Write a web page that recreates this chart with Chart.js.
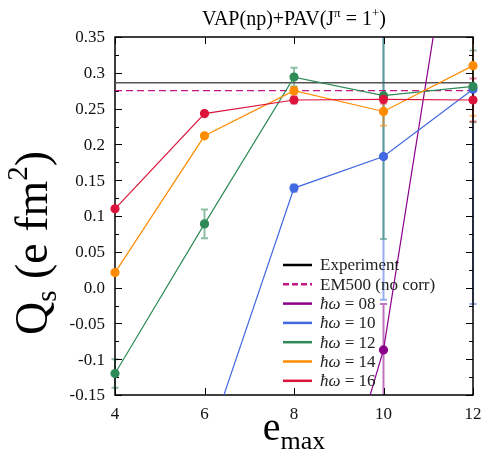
<!DOCTYPE html>
<html>
<head>
<meta charset="utf-8">
<script src="https://cdn.jsdelivr.net/npm/chart.js@4"></script>
<style>
  body { margin: 0; background: #fff; }
</style>
</head>
<body>
<canvas id="qsChart" width="484" height="455"></canvas>
<script>
// e_max values and tick labels
const emax = [4, 6, 8, 10, 12];
const xLabels = ['4', '6', '8', '10', '12'];
const yTicks = [-0.15, -0.1, -0.05, 0, 0.05, 0.1, 0.15, 0.2, 0.25, 0.3, 0.35];
const yLabels = ['-0.15', '-0.1', '-0.05', '0.0', '0.05', '0.1', '0.15', '0.2', '0.25', '0.3', '0.35'];

// reference lines
const experiment = [0.286, 0.286];
const em500 = [0.275, 0.275];

// Q_s per hbar omega, with error bars
const hw08 = [null, null, -0.51, -0.087, 0.70];
const err08 = [0, 0, 0, 0.064, 0];
const hw10 = [null, -0.23, 0.139, 0.183, 0.277];
const err10 = [0, 0, 0.005, 0.2, 0.3];
const hw12 = [-0.12, 0.089, 0.294, 0.268, 0.281];
const err12 = [0.02, 0.02, 0.013, 0.2, 0.05];
const hw14 = [0.021, 0.212, 0.275, 0.246, 0.310];
const err14 = [0, 0, 0.005, 0.02, 0.07];
const hw16 = [0.110, 0.243, 0.262, 0.263, 0.262];
const err16 = [0, 0, 0.005, 0.006, 0.03];

const serif = "'Liberation Serif', serif";

const series = [
    { label: '16', values: hw16, errors: err16, color: '#dc143c', bar: 'rgba(220,20,60,0.55)' },
    { label: '14', values: hw14, errors: err14, color: '#ff8c00', bar: 'rgba(255,140,0,0.55)' },
    { label: '12', values: hw12, errors: err12, color: '#2e8b57', bar: 'rgba(46,139,87,0.55)' },
    { label: '10', values: hw10, errors: err10, color: '#4169e1', bar: 'rgba(65,105,225,0.55)' },
    { label: '08', values: hw08, errors: err08, color: '#8b008b', bar: 'rgba(139,0,139,0.55)' }
];

const toPoints = (vals) => emax.map((x, i) => ({ x: x, y: vals[i] }));

const datasets = series.map(s => ({
    label: s.label,
    data: toPoints(s.values),
    borderColor: s.color,
    backgroundColor: s.color,
    borderWidth: 1.2,
    pointRadius: 4,
    pointHoverRadius: 4,
    clip: { left: 6, right: 6, top: 0, bottom: 0 }
}));

datasets.push({
    label: 'Experiment',
    data: [{ x: 4, y: experiment[0] }, { x: 12, y: experiment[1] }],
    borderColor: '#555',
    borderWidth: 1.5,
    pointRadius: 0
});
datasets.push({
    label: 'EM500',
    data: [{ x: 4, y: em500[0] }, { x: 12, y: em500[1] }],
    borderColor: '#c71585',
    borderWidth: 1.2,
    borderDash: [7, 4],
    pointRadius: 0
});

// draws text pieces with sub/superscripts, starting at x (left), baseline y
function drawPieces(ctx, pieces, x, y) {
    pieces.forEach(p => {
        ctx.font = p.font;
        ctx.fillText(p.text, x, y + (p.dy || 0));
        x += ctx.measureText(p.text).width;
    });
}
function piecesWidth(ctx, pieces) {
    let w = 0;
    pieces.forEach(p => { ctx.font = p.font; w += ctx.measureText(p.text).width; });
    return w;
}

const decor = {
    id: 'decor',
    beforeDatasetsDraw(chart) {
        const ctx = chart.ctx;
        const area = chart.chartArea;
        const xs = chart.scales.x;
        const ys = chart.scales.y;
        ctx.save();

        // error bars
        ctx.beginPath();
        ctx.rect(area.left - 6, area.top, area.right - area.left + 12, area.bottom - area.top);
        ctx.clip();
        series.slice().reverse().forEach(s => {
            ctx.strokeStyle = s.bar;
            ctx.lineWidth = 2;
            s.values.forEach((v, i) => {
                const e = s.errors[i];
                if (v === null || !e) return;
                const px = xs.getPixelForValue(emax[i]);
                const lo = ys.getPixelForValue(v - e);
                const hi = ys.getPixelForValue(v + e);
                ctx.beginPath();
                ctx.moveTo(px, lo);
                ctx.lineTo(px, hi);
                ctx.moveTo(px - 3.5, lo);
                ctx.lineTo(px + 3.5, lo);
                ctx.moveTo(px - 3.5, hi);
                ctx.lineTo(px + 3.5, hi);
                ctx.stroke();
            });
        });
        ctx.restore();

        // frame and inward ticks
        ctx.save();
        ctx.strokeStyle = '#000';
        ctx.lineWidth = 1.5;
        ctx.strokeRect(area.left, area.top, area.right - area.left, area.bottom - area.top);
        ctx.lineWidth = 1;
        ctx.beginPath();
        emax.forEach(v => {
            const px = Math.round(xs.getPixelForValue(v)) + 0.5;
            ctx.moveTo(px, area.bottom);
            ctx.lineTo(px, area.bottom - 7);
            ctx.moveTo(px, area.top);
            ctx.lineTo(px, area.top + 7);
        });
        for (let k = 0; k <= 20; k++) {
            const v = -0.15 + k * 0.025;
            const len = k % 2 === 0 ? 7 : 4;
            const py = Math.round(ys.getPixelForValue(v)) + 0.5;
            ctx.moveTo(area.left, py);
            ctx.lineTo(area.left + len, py);
            ctx.moveTo(area.right, py);
            ctx.lineTo(area.right - len, py);
        }
        ctx.stroke();

        // tick labels
        ctx.fillStyle = '#111';
        ctx.font = '17px ' + serif;
        ctx.textAlign = 'right';
        ctx.textBaseline = 'middle';
        yTicks.forEach((v, i) => {
            ctx.fillText(yLabels[i], area.left - 10, ys.getPixelForValue(v) + 1);
        });
        ctx.textAlign = 'center';
        ctx.textBaseline = 'alphabetic';
        emax.forEach((v, i) => {
            ctx.fillText(xLabels[i], xs.getPixelForValue(v), area.bottom + 24);
        });
        ctx.restore();
    },
    afterDraw(chart) {
        const ctx = chart.ctx;
        const area = chart.chartArea;
        const midX = (area.left + area.right) / 2;
        ctx.save();
        ctx.fillStyle = '#000';
        ctx.textBaseline = 'alphabetic';
        ctx.textAlign = 'left';

        // title
        const f = '20px ' + serif;
        const fs = '13px ' + serif;
        const title = [
            { text: 'VAP(np)+PAV(J', font: f },
            { text: 'π', font: fs, dy: -8 },
            { text: ' = 1', font: f },
            { text: '+', font: fs, dy: -8 },
            { text: ')', font: f }
        ];
        drawPieces(ctx, title, midX - piecesWidth(ctx, title) / 2, 25);

        // x axis title
        const xt = [
            { text: 'e', font: '40px ' + serif },
            { text: 'max', font: '26px ' + serif, dy: 9 }
        ];
        drawPieces(ctx, xt, midX - piecesWidth(ctx, xt) / 2, 440);

        // y axis title
        const yt = [
            { text: 'Q', font: '46px ' + serif },
            { text: 's', font: '29px ' + serif, dy: 9 },
            { text: ' (e fm', font: '46px ' + serif },
            { text: '2', font: '29px ' + serif, dy: -20 },
            { text: ')', font: '46px ' + serif }
        ];
        ctx.translate(47, 243);
        ctx.rotate(-Math.PI / 2);
        drawPieces(ctx, yt, -piecesWidth(ctx, yt) / 2, 0);
        ctx.restore();

        // legend
        ctx.save();
        const rows = [
            { color: '#000', dash: [], label: 'Experiment' },
            { color: '#c71585', dash: [6, 3], label: 'EM500 (no corr)' },
            { color: '#8b008b', dash: [], label: '08', hw: true },
            { color: '#4169e1', dash: [], label: '10', hw: true },
            { color: '#2e8b57', dash: [], label: '12', hw: true },
            { color: '#ff8c00', dash: [], label: '14', hw: true },
            { color: '#dc143c', dash: [], label: '16', hw: true }
        ];
        ctx.textBaseline = 'middle';
        rows.forEach((r, i) => {
            const y = 265 + i * 19.3;
            ctx.strokeStyle = r.color;
            ctx.lineWidth = 2.5;
            ctx.setLineDash(r.dash);
            ctx.beginPath();
            ctx.moveTo(283, y);
            ctx.lineTo(312, y);
            ctx.stroke();
            ctx.setLineDash([]);
            ctx.fillStyle = '#222';
            if (r.hw) {
                drawPieces(ctx, [
                    { text: 'ħω', font: 'italic 17px ' + serif },
                    { text: ' = ' + r.label, font: '17px ' + serif }
                ], 320, y + 1);
            } else {
                ctx.font = '17px ' + serif;
                ctx.fillText(r.label, 320, y + 1);
            }
        });
        ctx.restore();
    }
};

const canvas = document.getElementById('qsChart');

new Chart(canvas, {
    type: 'line',
    data: { datasets: datasets },
    options: {
        responsive: false,
        animation: false,
        layout: { padding: { left: 0, top: 37, right: 11, bottom: 0 } },
        plugins: {
            legend: { display: false },
            tooltip: { enabled: false }
        },
        scales: {
            x: {
                type: 'linear',
                min: 4,
                max: 12,
                grid: { display: false },
                border: { display: false },
                ticks: { display: false, stepSize: 2 },
                afterFit: (scale) => { scale.height = 60; }
            },
            y: {
                min: -0.15,
                max: 0.35,
                grid: { display: false },
                border: { display: false },
                ticks: { display: false, stepSize: 0.05 },
                afterFit: (scale) => { scale.width = 115; }
            }
        }
    },
    plugins: [decor]
});
</script>
</body>
</html>
